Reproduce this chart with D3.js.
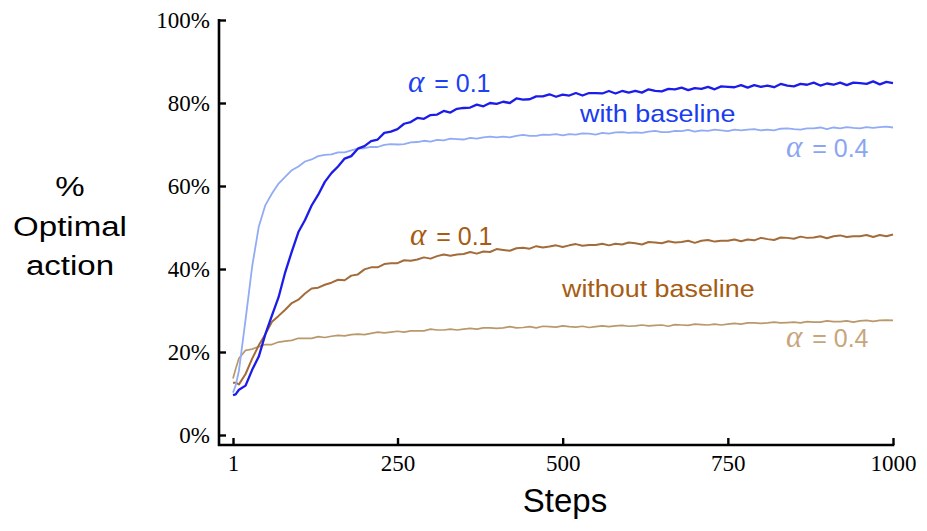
<!DOCTYPE html>
<html>
<head>
<meta charset="utf-8">
<script src="https://cdn.jsdelivr.net/npm/d3@7"></script>
<style>
  body { margin: 0; background: #fff; }
  svg { display: block; }
  .sans { font-family: "Liberation Sans", Arial, Helvetica, sans-serif; }
  .serif { font-family: "Liberation Serif", "Times New Roman", serif; }
</style>
</head>
<body>
<svg id="chart" width="927" height="531"></svg>
<script>
// sampled steps (x)
const steps = [1, 5, 10, 20, 30, 40, 50, 60, 70, 80, 90, 100, 110, 120, 130, 140, 150, 160, 170, 180, 190, 200,
  210, 220, 230, 240, 250, 260, 270, 280, 290, 300, 310, 320, 330, 340, 350, 360, 370, 380, 390, 400,
  410, 420, 430, 440, 450, 460, 470, 480, 490, 500, 510, 520, 530, 540, 550, 560, 570, 580, 590, 600,
  610, 620, 630, 640, 650, 660, 670, 680, 690, 700, 710, 720, 730, 740, 750, 760, 770, 780, 790, 800,
  810, 820, 830, 840, 850, 860, 870, 880, 890, 900, 910, 920, 930, 940, 950, 960, 970, 980, 990, 1000];

// % optimal action, alpha = 0.1 with baseline
const withBase01 = [9.6, 9.8, 10.9, 11.9, 15.7, 18.9, 24.3, 28.8, 33.2, 39.2, 44.2, 48.9, 51.8, 55.3, 57.9, 61.0, 63.1, 64.7, 66.6, 67.2, 69.0, 69.6,
  70.8, 71.2, 72.8, 73.1, 73.7, 75.0, 75.4, 76.4, 76.2, 77.1, 77.2, 78.1, 77.7, 78.6, 78.8, 78.9, 79.6, 79.2, 80.0, 79.8,
  80.3, 80.0, 81.1, 80.8, 80.9, 81.6, 81.6, 82.1, 81.5, 82.0, 81.8, 82.4, 81.8, 82.4, 82.4, 82.3, 82.9, 82.3, 82.9, 82.5,
  82.9, 82.5, 83.3, 82.9, 82.8, 83.4, 83.3, 83.7, 83.1, 83.6, 83.4, 83.9, 83.3, 84.0, 83.9, 83.8, 84.3, 83.7, 84.3, 83.9,
  84.2, 83.8, 84.6, 84.2, 84.0, 84.6, 84.4, 84.9, 84.2, 84.7, 84.4, 84.9, 84.3, 84.9, 84.8, 84.6, 85.2, 84.5, 85.1, 84.8];

// alpha = 0.4 with baseline
const withBase04 = [10.2, 11.9, 15.5, 27.8, 40.6, 50.2, 55.4, 58.2, 60.6, 62.2, 63.8, 64.7, 65.9, 66.4, 67.2, 67.5, 67.6, 68.1, 68.1, 68.6, 69.0, 69.1,
  69.4, 69.4, 69.9, 70.1, 70.0, 70.1, 70.5, 70.6, 70.9, 70.7, 71.1, 71.0, 71.4, 71.3, 71.2, 71.6, 71.4, 71.7, 71.9, 71.7,
  71.9, 71.7, 72.1, 72.3, 72.1, 72.1, 72.4, 72.3, 72.5, 72.2, 72.5, 72.4, 72.7, 72.6, 72.4, 72.8, 72.6, 72.9, 73.0, 72.8,
  72.9, 72.8, 73.1, 73.3, 73.0, 73.0, 73.3, 73.2, 73.5, 73.1, 73.4, 73.3, 73.6, 73.4, 73.2, 73.6, 73.4, 73.6, 73.7, 73.4,
  73.6, 73.4, 73.8, 73.9, 73.7, 73.6, 73.9, 73.9, 74.1, 73.7, 74.1, 73.9, 74.2, 74.0, 73.9, 74.2, 74.0, 74.2, 74.3, 74.1];

// alpha = 0.1 without baseline
const noBase01 = [12.6, 12.6, 12.2, 14.7, 18.4, 21.6, 24.3, 27.3, 28.7, 30.2, 31.8, 32.6, 34.1, 35.3, 35.5, 36.2, 36.7, 37.4, 37.3, 38.4, 38.7, 39.9,
  40.4, 40.4, 41.2, 41.4, 41.4, 42.1, 42.0, 42.3, 42.8, 42.5, 43.1, 43.5, 43.2, 43.5, 43.6, 44.1, 43.7, 44.2, 44.1, 44.8,
  44.6, 44.4, 45.0, 45.1, 44.9, 45.5, 45.2, 45.4, 45.7, 45.3, 45.7, 46.0, 45.6, 45.8, 45.8, 46.1, 45.7, 46.1, 45.9, 46.4,
  46.2, 45.9, 46.5, 46.4, 46.2, 46.7, 46.4, 46.5, 46.8, 46.3, 46.8, 47.0, 46.6, 46.8, 46.8, 47.1, 46.7, 47.1, 46.9, 47.5,
  47.2, 47.0, 47.6, 47.5, 47.3, 47.8, 47.5, 47.6, 47.9, 47.4, 47.9, 48.1, 47.7, 47.9, 47.9, 48.2, 47.7, 48.2, 47.9, 48.3];

// alpha = 0.4 without baseline
const noBase04 = [13.6, 15.9, 18.5, 20.4, 20.7, 21.3, 21.8, 21.8, 22.4, 22.6, 22.8, 23.3, 23.3, 23.3, 23.7, 23.5, 23.8, 24.0, 23.9, 24.2, 24.3, 24.2,
  24.5, 24.8, 24.6, 24.8, 25.0, 24.8, 25.1, 25.1, 25.1, 25.5, 25.3, 25.3, 25.5, 25.3, 25.5, 25.7, 25.5, 25.8, 25.8, 25.7,
  25.8, 26.1, 25.8, 25.9, 26.1, 25.8, 26.2, 26.1, 26.0, 26.3, 26.1, 26.0, 26.2, 25.9, 26.1, 26.3, 26.1, 26.3, 26.4, 26.2,
  26.3, 26.5, 26.3, 26.4, 26.5, 26.2, 26.6, 26.5, 26.4, 26.7, 26.6, 26.5, 26.7, 26.5, 26.7, 26.9, 26.7, 27.0, 27.0, 26.9,
  27.0, 27.2, 27.0, 27.1, 27.2, 27.0, 27.3, 27.2, 27.2, 27.5, 27.3, 27.3, 27.5, 27.2, 27.5, 27.6, 27.4, 27.6, 27.7, 27.6];

const xTicks = [1, 250, 500, 750, 1000];
const yTicks = [0, 20, 40, 60, 80, 100];

const series = [
  {values: noBase04, color: "#b9996c", width: 1.7},
  {values: noBase01, color: "#a36b39", width: 2.0},
  {values: withBase04, color: "#91abf5", width: 1.8},
  {values: withBase01, color: "#1c1ce8", width: 2.3}
];

const svg = d3.select("#chart");

const x = d3.scaleLinear().domain([1, 1000]).range([233, 893]);
const y = d3.scaleLinear().domain([0, 100]).range([435, 20]);

// spines
svg.append("line")
  .attr("x1", 219).attr("x2", 219)
  .attr("y1", 19).attr("y2", 446)
  .attr("stroke", "#000").attr("stroke-width", 2.6);
svg.append("line")
  .attr("x1", 218).attr("x2", x(1000) + 1.3)
  .attr("y1", 445).attr("y2", 445)
  .attr("stroke", "#000").attr("stroke-width", 2.6);

const yAxis = svg.append("g")
  .attr("transform", "translate(219,0)")
  .call(d3.axisLeft(y).tickValues(yTicks).tickFormat(d => d + "%")
    .tickSizeInner(-7).tickSizeOuter(0).tickPadding(9));
yAxis.select(".domain").remove();
yAxis.selectAll("line").attr("stroke-width", 2.4);
yAxis.selectAll("text")
  .attr("class", "serif")
  .attr("font-size", 23)
  .attr("fill", "#000");

const xAxis = svg.append("g")
  .attr("transform", "translate(0,445)")
  .call(d3.axisBottom(x).tickValues(xTicks).tickFormat(d3.format("d"))
    .tickSizeInner(-7).tickSizeOuter(0).tickPadding(10));
xAxis.select(".domain").remove();
xAxis.selectAll("line").attr("stroke-width", 2.4);
xAxis.selectAll("text")
  .attr("class", "serif")
  .attr("font-size", 23)
  .attr("fill", "#000");

// curves
const line = d3.line()
  .x((d, i) => x(steps[i]))
  .y(d => y(d));

svg.append("g")
  .selectAll("path")
  .data(series)
  .enter()
  .append("path")
  .attr("d", d => line(d.values))
  .attr("fill", "none")
  .attr("stroke", d => d.color)
  .attr("stroke-width", d => d.width)
  .attr("stroke-linejoin", "round");

// text helper, original type is slightly wide
function label(px, py, str, size, color, anchor, sx) {
  return svg.append("text")
    .attr("class", "sans")
    .attr("transform", "translate(" + px + "," + py + ") scale(" + (sx || 1) + ",1)")
    .attr("text-anchor", anchor || "start")
    .attr("font-size", size)
    .attr("fill", color)
    .text(str);
}

function alphaLabel(px, py, val, color) {
  const t = svg.append("text")
    .attr("transform", "translate(" + px + "," + py + ")")
    .attr("fill", color);
  t.append("tspan")
    .attr("class", "serif")
    .attr("font-style", "italic")
    .attr("font-size", 31)
    .text("α");
  t.append("tspan")
    .attr("class", "sans")
    .attr("font-size", 25)
    .attr("dx", 3)
    .text(" = " + val);
}

alphaLabel(408, 92, "0.1", "#2040f4");
label(580, 122, "with baseline", 24, "#1a3cf0", "start", 1.12);
alphaLabel(786, 157, "0.4", "#8aa6f2");

alphaLabel(410, 245, "0.1", "#a65c12");
label(562, 297, "without baseline", 24, "#a65c12", "start", 1.12);
alphaLabel(786, 347, "0.4", "#c8a57b");

// axis titles
label(70, 196, "%", 28, "#000", "middle", 1.18);
label(70, 236, "Optimal", 28, "#000", "middle", 1.18);
label(70, 275, "action", 28, "#000", "middle", 1.18);
label(565, 512, "Steps", 33, "#000", "middle", 1);
</script>
</body>
</html>
